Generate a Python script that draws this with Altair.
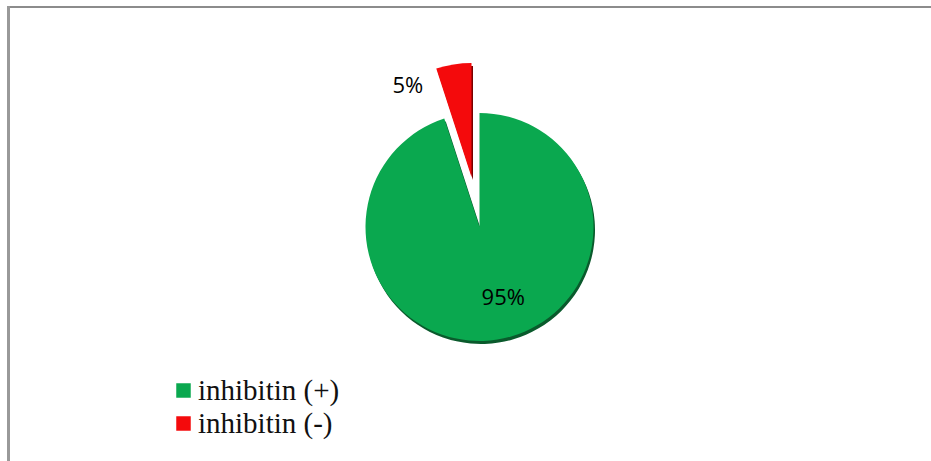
import altair as alt
import pandas as pd

categories = ["inhibitin (+)", "inhibitin (-)"]
values = [95, 5]
labels = ["95%", "5%"]
colors = ["#0AA84F", "#F40A0C"]
shadow_colors = ["#0A5A2C", "#7A0000"]

df = pd.DataFrame({"category": categories, "value": values, "label": labels,
                   "order": list(range(len(categories)))})

CX, CY, R = 479.5, 227, 114

base = alt.Chart(df).transform_window(
    end="sum(value)", sort=[alt.SortField("order")]
).transform_calculate(
    start="datum.end - datum.value", mid="datum.end - datum.value/2"
)

theta_scale = alt.Scale(domain=[0, 100], range=[0, 6.283185307])
color_scale = alt.Scale(domain=categories, range=colors)
shadow_scale = alt.Scale(domain=categories, range=shadow_colors)


def arcs(cat, dx, dy, shadow=False):
    sx, sy = (1.5, 3) if shadow else (0, 0)
    enc = dict(
        theta=alt.Theta("start:Q", scale=theta_scale),
        theta2="end:Q",
        x=alt.value(CX), y=alt.value(CY),
    )
    if shadow:
        enc["color"] = alt.Color("category:N", scale=shadow_scale, legend=None)
    elif cat == categories[0]:
        enc["color"] = alt.Color(
            "category:N", scale=color_scale,
            legend=alt.Legend(
                title=None, orient="none", legendX=169, legendY=376,
                symbolType="square", symbolSize=210, symbolStrokeWidth=0,
                labelFont="Liberation Serif", labelFontSize=29, labelColor="#111",
                labelOffset=0, rowPadding=3, padding=0,
            ))
    else:
        enc["color"] = alt.Color("category:N", scale=color_scale, legend=None)
    return base.transform_filter(alt.datum.category == cat).mark_arc(
        outerRadius=R, xOffset=dx + sx, yOffset=dy + sy, stroke=None
    ).encode(**enc)


green_shadow = arcs(categories[0], 0, 0, shadow=True)
red_shadow = arcs(categories[1], -8, -50, shadow=True)
green = arcs(categories[0], 0, 0)
red = arcs(categories[1], -8, -50)

text_green = base.transform_filter(alt.datum.category == categories[0]).mark_text(
    font="Open Sans", fontSize=22, color="#000", dx=12, dy=-3
).encode(theta=alt.Theta("mid:Q", scale=theta_scale), radius=alt.value(75),
         x=alt.value(CX), y=alt.value(CY), text="label:N")

text_red = base.transform_filter(alt.datum.category == categories[1]).mark_text(
    font="Open Sans", fontSize=22, color="#000", dx=-47, dy=15
).encode(theta=alt.Theta("mid:Q", scale=theta_scale), radius=alt.value(158),
         x=alt.value(CX), y=alt.value(CY), text="label:N")

top_border = alt.Chart(df).mark_rule(color="#8C8C8C", strokeWidth=2).encode(
    x=alt.value(7), x2=alt.value(931), y=alt.value(7))
left_border = alt.Chart(df).mark_rule(color="#999999", strokeWidth=3).encode(
    x=alt.value(8.5), y=alt.value(6), y2=alt.value(461))

chart = alt.layer(
    top_border, left_border, green_shadow, red_shadow, green, red, text_green, text_red
).resolve_scale(theta="shared", color="independent").properties(
    width=931, height=461, padding=0, autosize="none", background="white"
).configure_view(stroke=None)

chart.save("out.html", embed_options={"renderer": "svg", "actions": False})
